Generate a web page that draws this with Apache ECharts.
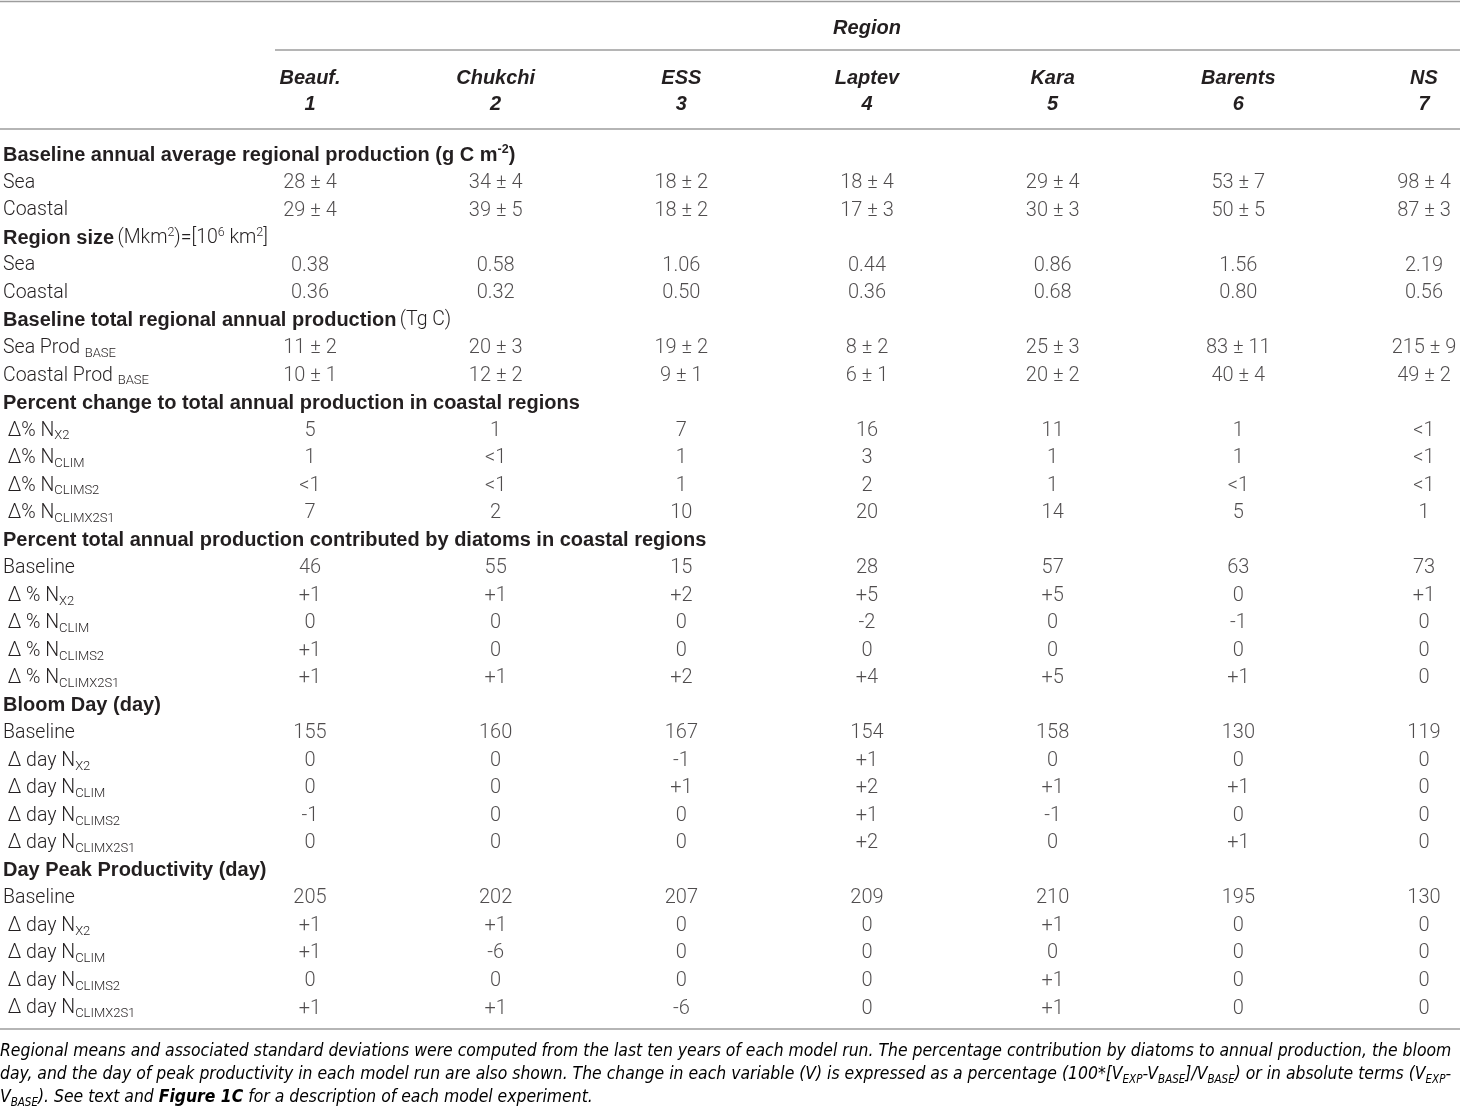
<!DOCTYPE html>
<html>
<head>
<meta charset="utf-8">
<title>Regional production table</title>
<script src="https://cdn.jsdelivr.net/npm/echarts@6/dist/echarts.min.js"></script>
<style>
  html, body { margin: 0; padding: 0; background: #fff; }
  #chart { width: 1460px; height: 1111px; }
</style>
</head>
<body>
<div id="chart"></div>
<script>
// column headers
var regions = ['Beauf.', 'Chukchi', 'ESS', 'Laptev', 'Kara', 'Barents', 'NS'];
var regionNums = ['1', '2', '3', '4', '5', '6', '7'];

// baseline annual average regional production (g C m-2)
var prodSea = ['28 ± 4', '34 ± 4', '18 ± 2', '18 ± 4', '29 ± 4', '53 ± 7', '98 ± 4'];
var prodCoastal = ['29 ± 4', '39 ± 5', '18 ± 2', '17 ± 3', '30 ± 3', '50 ± 5', '87 ± 3'];
// region size (Mkm2)
var sizeSea = ['0.38', '0.58', '1.06', '0.44', '0.86', '1.56', '2.19'];
var sizeCoastal = ['0.36', '0.32', '0.50', '0.36', '0.68', '0.80', '0.56'];
// baseline total regional annual production (Tg C)
var totalSea = ['11 ± 2', '20 ± 3', '19 ± 2', '8 ± 2', '25 ± 3', '83 ± 11', '215 ± 9'];
var totalCoastal = ['10 ± 1', '12 ± 2', '9 ± 1', '6 ± 1', '20 ± 2', '40 ± 4', '49 ± 2'];
// percent change to total annual production in coastal regions
var pctX2 = ['5', '1', '7', '16', '11', '1', '<1'];
var pctClim = ['1', '<1', '1', '3', '1', '1', '<1'];
var pctClimS2 = ['<1', '<1', '1', '2', '1', '<1', '<1'];
var pctClimX2S1 = ['7', '2', '10', '20', '14', '5', '1'];
// percent contributed by diatoms
var diaBase = ['46', '55', '15', '28', '57', '63', '73'];
var diaX2 = ['+1', '+1', '+2', '+5', '+5', '0', '+1'];
var diaClim = ['0', '0', '0', '-2', '0', '-1', '0'];
var diaClimS2 = ['+1', '0', '0', '0', '0', '0', '0'];
var diaClimX2S1 = ['+1', '+1', '+2', '+4', '+5', '+1', '0'];
// bloom day
var bloomBase = ['155', '160', '167', '154', '158', '130', '119'];
var bloomX2 = ['0', '0', '-1', '+1', '0', '0', '0'];
var bloomClim = ['0', '0', '+1', '+2', '+1', '+1', '0'];
var bloomClimS2 = ['-1', '0', '0', '+1', '-1', '0', '0'];
var bloomClimX2S1 = ['0', '0', '0', '+2', '0', '+1', '0'];
// day of peak productivity
var peakBase = ['205', '202', '207', '209', '210', '195', '130'];
var peakX2 = ['+1', '+1', '0', '0', '+1', '0', '0'];
var peakClim = ['+1', '-6', '0', '0', '0', '0', '0'];
var peakClimS2 = ['0', '0', '0', '0', '+1', '0', '0'];
var peakClimX2S1 = ['+1', '+1', '-6', '0', '+1', '0', '0'];

// row labels (rich text) paired with their values, null = section heading
var rows = [
  ['{b|Baseline annual average regional production (g C m}{bsup|-2}{b|)}', null],
  ['{n|Sea}', prodSea],
  ['{n|Coastal}', prodCoastal],
  ['{b|Region size} {n|(Mkm}{sup|2}{n|)=[10}{sup|6}{n| km}{sup|2}{n|]}', null],
  ['{n|Sea}', sizeSea],
  ['{n|Coastal}', sizeCoastal],
  ['{b|Baseline total regional annual production} {n|(Tg C)}', null],
  ['{n|Sea Prod }{sub|BASE}', totalSea],
  ['{n|Coastal Prod }{sub|BASE}', totalCoastal],
  ['{b|Percent change to total annual production in coastal regions}', null],
  ['{n| Δ% N}{sub|X2}', pctX2],
  ['{n| Δ% N}{sub|CLIM}', pctClim],
  ['{n| Δ% N}{sub|CLIMS2}', pctClimS2],
  ['{n| Δ% N}{sub|CLIMX2S1}', pctClimX2S1],
  ['{b|Percent total annual production contributed by diatoms in coastal regions}', null],
  ['{n|Baseline}', diaBase],
  ['{n| Δ % N}{sub|X2}', diaX2],
  ['{n| Δ % N}{sub|CLIM}', diaClim],
  ['{n| Δ % N}{sub|CLIMS2}', diaClimS2],
  ['{n| Δ % N}{sub|CLIMX2S1}', diaClimX2S1],
  ['{b|Bloom Day (day)}', null],
  ['{n|Baseline}', bloomBase],
  ['{n| Δ day N}{sub|X2}', bloomX2],
  ['{n| Δ day N}{sub|CLIM}', bloomClim],
  ['{n| Δ day N}{sub|CLIMS2}', bloomClimS2],
  ['{n| Δ day N}{sub|CLIMX2S1}', bloomClimX2S1],
  ['{b|Day Peak Productivity (day)}', null],
  ['{n|Baseline}', peakBase],
  ['{n| Δ day N}{sub|X2}', peakX2],
  ['{n| Δ day N}{sub|CLIM}', peakClim],
  ['{n| Δ day N}{sub|CLIMS2}', peakClimS2],
  ['{n| Δ day N}{sub|CLIMX2S1}', peakClimX2S1]
];

var caption = [
  '{i|Regional means and associated standard deviations were computed from the last ten years of each model run. The percentage contribution by diatoms to annual production, the bloom}',
  '{i|day, and the day of peak productivity in each model run are also shown. The change in each variable (V) is expressed as a percentage (100*[V}{is|EXP}{i|-V}{is|BASE}{i|]/V}{is|BASE}{i|) or in absolute terms (V}{is|EXP}{i|-}',
  '{i|V}{is|BASE}{i|). See text and }{ib|Figure 1C}{i| for a description of each model experiment.}'
].join('\n');

var FONT = '"Liberation Sans", Arial, Helvetica, sans-serif';
var LIGHT = 'Roboto, "Liberation Sans", sans-serif';
var NARROW = '"Liberation Sans Narrow", "DejaVu Sans Condensed", sans-serif';
var INK = '#231f20';
var RULE = '#9d9d9d';

var cells = [];
rows.forEach(function (r, ri) {
  if (!r[1]) return;
  r[1].forEach(function (v, ci) {
    cells.push([ci, ri, v]);
  });
});

var rowRich = {
  b: { fontFamily: FONT, fontSize: 20, fontWeight: 'bold', color: INK, lineHeight: 24 },
  bsup: { fontFamily: FONT, fontSize: 12.5, fontWeight: 'bold', color: INK, lineHeight: 12, verticalAlign: 'top' },
  n: { fontFamily: LIGHT, fontSize: 19.5, fontWeight: 300, color: INK, lineHeight: 24 },
  sup: { fontFamily: LIGHT, fontSize: 12.5, fontWeight: 300, color: INK, lineHeight: 12, verticalAlign: 'top' },
  sub: { fontFamily: LIGHT, fontSize: 13, fontWeight: 300, color: INK, lineHeight: 12, verticalAlign: 'bottom' }
};

var chart = echarts.init(document.getElementById('chart'), null, { renderer: 'canvas' });

chart.setOption({
  backgroundColor: '#fff',
  animation: false,
  grid: { left: 304, right: 36, top: 155.5, bottom: 102.5, containLabel: false },
  xAxis: {
    type: 'category',
    position: 'top',
    data: regions,
    boundaryGap: false,
    axisLine: { show: false },
    axisTick: { show: false },
    splitLine: { show: false },
    name: 'Region',
    nameLocation: 'middle',
    nameGap: 117.5,
    nameTextStyle: { fontFamily: FONT, fontSize: 20, fontWeight: 'bold', fontStyle: 'italic', color: INK },
    axisLabel: {
      interval: 0,
      margin: 38.5,
      formatter: function (v, i) {
        return '{h|' + v + '}\n{h|' + regionNums[i] + '}';
      },
      rich: {
        h: { fontFamily: FONT, fontSize: 20, fontWeight: 'bold', fontStyle: 'italic', color: INK, lineHeight: 26 }
      }
    }
  },
  yAxis: {
    type: 'category',
    inverse: true,
    boundaryGap: false,
    data: rows.map(function (r, i) { return String(i); }),
    axisLine: { show: false },
    axisTick: { show: false },
    splitLine: { show: false },
    axisLabel: {
      interval: 0,
      margin: 307,
      align: 'left',
      formatter: function (v, i) { return rows[i][0]; },
      rich: rowRich
    }
  },
  series: [{
    type: 'scatter',
    data: cells,
    symbolSize: 0,
    silent: true,
    encode: { x: 0, y: 1 },
    label: {
      show: true,
      position: 'inside',
      formatter: function (p) { return p.value[2]; },
      fontFamily: LIGHT,
      fontSize: 20,
      fontWeight: 300,
      color: INK
    }
  }],
  graphic: [
    { type: 'line', shape: { x1: 0, y1: 1.5, x2: 1460, y2: 1.5 }, style: { stroke: RULE, lineWidth: 1.5 } },
    { type: 'line', shape: { x1: 275, y1: 50, x2: 1460, y2: 50 }, style: { stroke: RULE, lineWidth: 1.5 } },
    { type: 'line', shape: { x1: 0, y1: 129, x2: 1460, y2: 129 }, style: { stroke: RULE, lineWidth: 1.5 } },
    { type: 'line', shape: { x1: 0, y1: 1029, x2: 1460, y2: 1029 }, style: { stroke: RULE, lineWidth: 1.5 } },
    {
      type: 'text',
      left: 0,
      top: 1043,
      style: {
        text: caption,
        rich: {
          i: { fontFamily: NARROW, fontSize: 17.4, fontStyle: 'italic', color: INK, lineHeight: 23 },
          ib: { fontFamily: NARROW, fontSize: 17.4, fontStyle: 'italic', fontWeight: 'bold', color: INK, lineHeight: 23 },
          is: { fontFamily: NARROW, fontSize: 11.5, fontStyle: 'italic', color: INK, lineHeight: 12, verticalAlign: 'bottom' }
        }
      }
    }
  ]
});
</script>
</body>
</html>
